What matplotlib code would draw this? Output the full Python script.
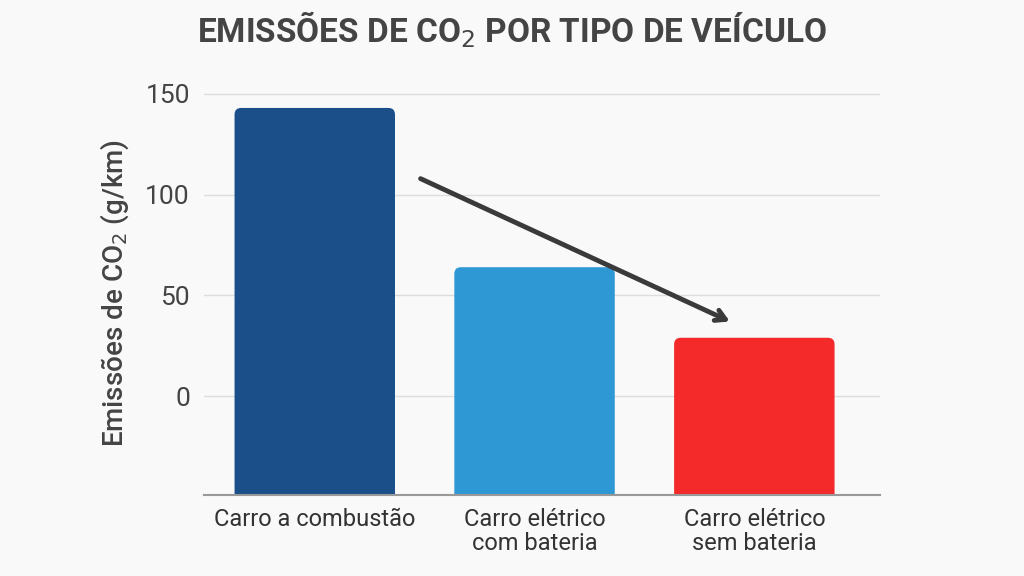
#! /usr/bin/env python3

import numpy as np
import matplotlib.pyplot as plt
from matplotlib.patches import FancyBboxPatch

categories = ["Carro a combustão", "Carro elétrico\ncom bateria", "Carro elétrico\nsem bateria"]
emissions = [143, 64, 29]
colors = ["#1a4f8a", "#2e98d4", "#f42a2a"]
yticks = [0, 50, 100, 150]

ymin, ymax = -49, 151

plt.rcParams['font.family'] = ['Roboto', 'DejaVu Sans']

fig = plt.figure(figsize=(10.24, 5.76), dpi=100, facecolor="#f9f9f9")
ax = fig.add_axes([0.199, 0.1406, 0.660, 0.700])
ax.set_facecolor("#f9f9f9")

x = np.arange(len(categories))
width = 0.73
# bars with slightly rounded tops; they start below the axis so the
# bottom corners are clipped away by the axes
for xi, v, c in zip(x, emissions, colors):
    ax.add_patch(FancyBboxPatch((xi - width / 2, ymin - 20), width, v - ymin + 20,
                                boxstyle="round,pad=0,rounding_size=0.03",
                                mutation_aspect=110,
                                facecolor=c, edgecolor="none", zorder=3))

ax.set_ylim(ymin, ymax)
ax.set_xlim(-0.505, 2.57)
ax.set_yticks(yticks)
ax.set_yticklabels([str(t) for t in yticks], fontsize=19, color="#444444")
ax.set_xticks(x)
ax.set_xticklabels(categories, fontsize=17, color="#333333", linespacing=1.1)
ax.tick_params(axis="both", length=0)
ax.tick_params(axis="y", pad=10)
ax.tick_params(axis="x", pad=9)
ax.grid(axis="y", color="#dddddd", linewidth=1, zorder=0)
for s in ["top", "right", "left"]:
    ax.spines[s].set_visible(False)
ax.spines["bottom"].set_color("#999999")
ax.spines["bottom"].set_linewidth(1.5)
ax.spines["bottom"].set_zorder(4)

ax.set_ylabel("Emissões de CO$_2$ (g/km)", fontsize=20, color="#444444",
              fontweight="medium", labelpad=10)

# decreasing trend arrow
ax.annotate("", xy=(1.9, 36.5), xytext=(0.47, 108.5),
            arrowprops=dict(arrowstyle="->,head_length=0.7,head_width=0.4",
                            color="#3a3a3a", lw=3.5), zorder=5)

fig.text(0.5, 0.948, "EMISSÕES DE CO$_2$ POR TIPO DE VEÍCULO", ha="center", va="center",
         fontsize=24, fontweight="bold", color="#444444")

fig.savefig("out.png", dpi=100, facecolor=fig.get_facecolor())
